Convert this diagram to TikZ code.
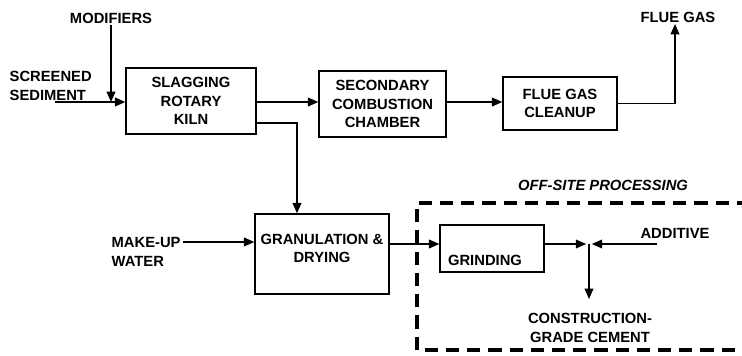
\documentclass[tikz,border=0pt]{standalone}
\usepackage{fontspec}
\setmainfont{Liberation Sans}
\usetikzlibrary{arrows.meta}
\tikzset{
	box/.style={draw, line width=0.9pt, inner sep=0pt, align=center},
	lbl/.style={font=\bfseries\fontsize{10.5}{13}\selectfont, align=center, inner sep=1pt},
	flow/.style={line width=0.9pt, -{Triangle[length=2.6mm, width=2.2mm]}}
}
\begin{document}
\begin{tikzpicture}[x=0.025cm, y=0.025cm]
\useasboundingbox (0,0) rectangle (742,355);
% process boxes
\node[box, lbl, minimum width=3.25cm, minimum height=1.65cm] (kiln) at (191,254) {SLAGGING\\ROTARY\\KILN};
\node[box, lbl, minimum width=3.175cm, minimum height=1.65cm] (sec) at (382.5,251) {SECONDARY\\COMBUSTION\\CHAMBER};
\node[box, lbl, minimum width=2.85cm, minimum height=1.325cm] (clean) at (560,251.5) {FLUE GAS\\CLEANUP};
\node[box, minimum width=3.35cm, minimum height=2cm] (gran) at (322,101) {};
\node[lbl] (granlbl) at (322,106.5) {GRANULATION \&\\DRYING};
\node[box, minimum width=2.6cm, minimum height=1.175cm] (grind) at (492,106.5) {};
\node[lbl] (grindlbl) at (485,95) {GRINDING};
% labels
\node[lbl] (modif) at (111,337) {MODIFIERS};
\node[lbl, anchor=west, align=left] (sed) at (8,269) {SCREENED\\SEDIMENT};
\node[lbl, anchor=west, align=left] (water) at (110,103) {MAKE-UP\\WATER};
\node[lbl] (fluegas) at (678,338) {FLUE GAS};
\node[lbl] (addit) at (675,122) {ADDITIVE};
\node[lbl] (cement) at (590,27) {CONSTRUCTION-\\GRADE CEMENT};
\node[lbl, font=\bfseries\itshape\fontsize{10.5}{13}\selectfont] (offsite) at (603,170) {OFF-SITE PROCESSING};
% free ends
\coordinate (sedin) at (55,253);
\coordinate (waterin) at (183,113);
\coordinate (join) at (589,111);
\coordinate (additin) at (657,111);
% connectors
\draw[flow] (sedin) -- (kiln.west |- sedin);
\draw[flow] (modif.south) -- (modif.south |- sedin);
\draw[flow] (kiln.east |- sedin) -- (sec.west |- sedin);
\draw[flow] (sec.east |- sedin) -- (clean.west |- sedin);
\draw[flow] (clean.east) -| (675,331);
\draw[flow] (256,232) -| (gran.north -| 297,0);
\draw[flow] (waterin) -- (gran.west |- waterin);
\draw[flow] (gran.east |- join) -- (grind.west |- join);
\draw[flow] (grind.east |- join) -- ([xshift=-2]join);
\draw[flow] (additin) -- ([xshift=2]join);
\draw[flow] (join) -- (589,56);
% off-site boundary
\draw[line width=2.4pt, dash pattern=on 0.33cm off 0.2cm] (750,152) -- (417,152) -- (417,5) -- (750,5);
\end{tikzpicture}
\end{document}
